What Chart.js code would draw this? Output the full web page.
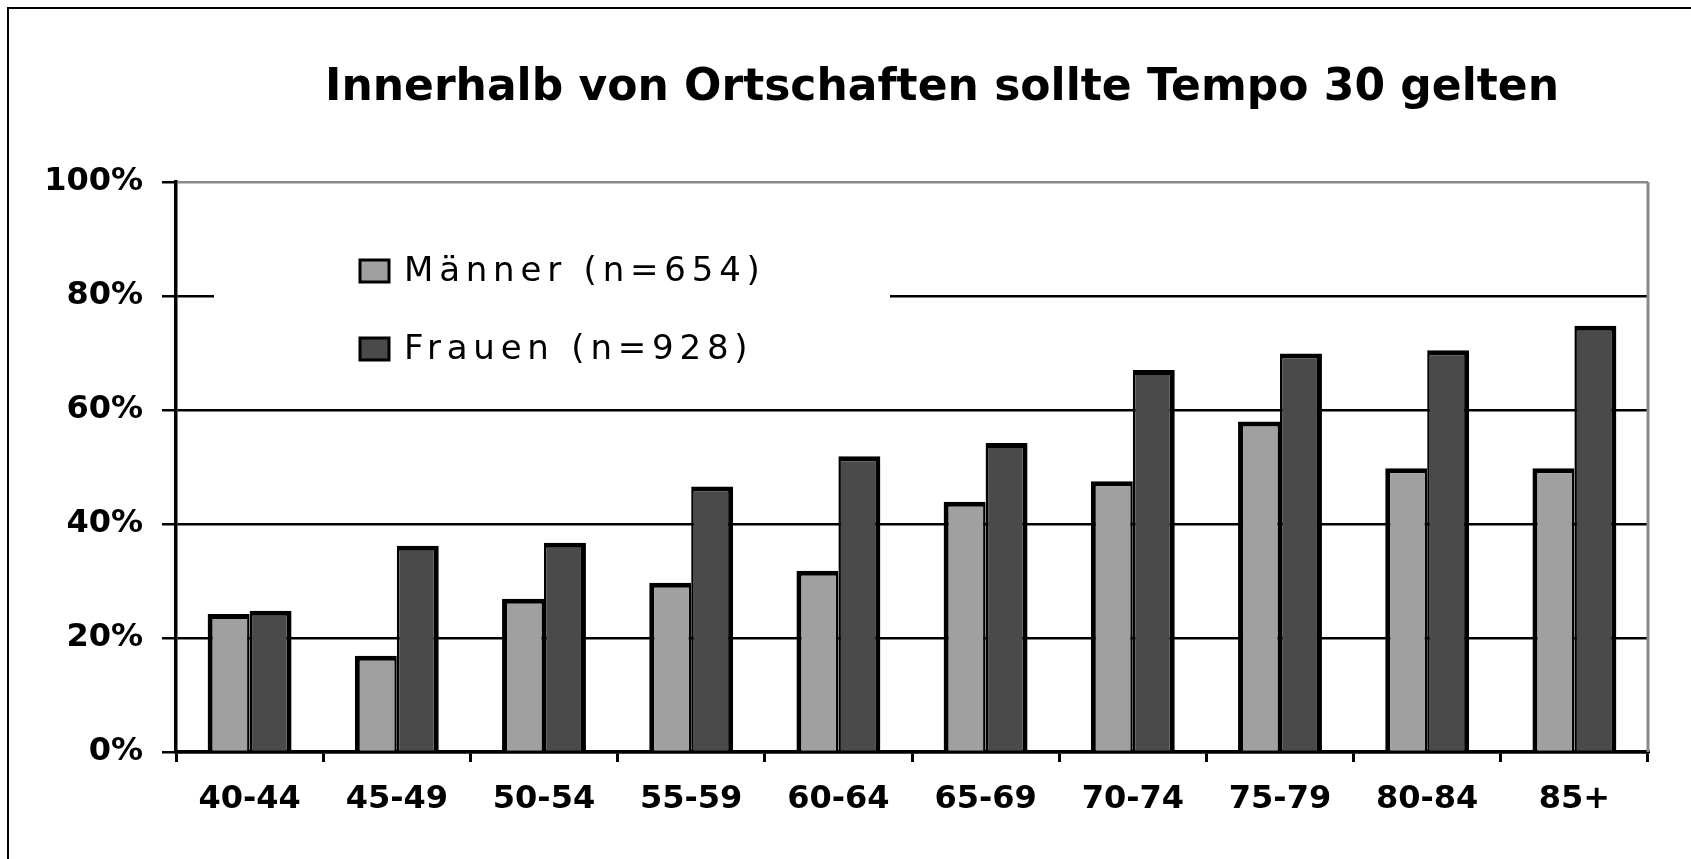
<!DOCTYPE html>
<html>
<head>
<meta charset="utf-8">
<script src="https://cdn.jsdelivr.net/npm/chart.js@4.4.1/dist/chart.umd.min.js"></script>
<style>
  body { margin: 0; background: #fff; }
</style>
</head>
<body>
<canvas id="myChart" width="1691" height="859"></canvas>
<script>
var titleText = 'Innerhalb von Ortschaften sollte Tempo 30 gelten';
var ageGroups = ['40-44', '45-49', '50-54', '55-59', '60-64', '65-69', '70-74', '75-79', '80-84', '85+'];
var maenner = [24.2, 16.9, 26.9, 29.7, 31.8, 43.9, 47.5, 58.0, 49.8, 49.8];
var frauen = [24.8, 36.2, 36.7, 46.6, 51.9, 54.2, 67.0, 69.9, 70.5, 74.8];
var seriesNames = ['Männer (n=654)', 'Frauen (n=928)'];
var yTickValues = [0, 20, 40, 60, 80, 100];

var fontFamily = '"DejaVu Sans", sans-serif';

// legend box inside the plot, covers the 80% line
var legendPlugin = {
    id: 'boxLegend',
    beforeDatasetsDraw: function(chart) {
        var ctx = chart.ctx;
        ctx.save();
        ctx.fillStyle = '#fff';
        ctx.fillRect(214, 222, 676, 150);
        ctx.font = '34px ' + fontFamily;
        ctx.letterSpacing = '5.8px';
        ctx.textBaseline = 'middle';
        var rows = [271, 349];
        chart.data.datasets.forEach(function(ds, i) {
            var y = rows[i];
            ctx.fillStyle = ds.backgroundColor;
            ctx.fillRect(360, y - 11, 29, 22);
            ctx.lineWidth = 3;
            ctx.strokeStyle = '#000';
            ctx.strokeRect(360, y - 11, 29, 22);
            ctx.fillStyle = '#000';
            ctx.fillText(ds.label, 404, y + 1);
        });
        ctx.restore();
    }
};

var framePlugin = {
    id: 'frame',
    afterDraw: function(chart) {
        var ctx = chart.ctx, a = chart.chartArea;
        ctx.save();
        // gray right edge of plot
        ctx.strokeStyle = '#8a8a8a';
        ctx.lineWidth = 3;
        ctx.beginPath();
        ctx.moveTo(a.right, a.top);
        ctx.lineTo(a.right, a.bottom);
        ctx.stroke();
        // outer frame, left and top only
        ctx.strokeStyle = '#000';
        ctx.lineWidth = 2;
        ctx.beginPath();
        ctx.moveTo(8, chart.height);
        ctx.lineTo(8, 8);
        ctx.lineTo(chart.width, 8);
        ctx.stroke();
        // title
        ctx.font = 'bold 44px ' + fontFamily;
        ctx.textAlign = 'center';
        ctx.textBaseline = 'middle';
        ctx.fillStyle = '#000';
        ctx.fillText(titleText, 942, 89);
        ctx.restore();
    }
};

var canvas = document.getElementById('myChart');
new Chart(canvas, {
    type: 'bar',
    data: {
        labels: ageGroups,
        datasets: [{
            label: seriesNames[0],
            data: maenner,
            backgroundColor: '#a0a0a0',
            borderColor: '#000',
            borderWidth: { left: 5, right: 2.5, top: 5, bottom: 0 },
            borderSkipped: 'start'
        }, {
            label: seriesNames[1],
            data: frauen,
            backgroundColor: '#4a4a4a',
            borderColor: '#000',
            borderWidth: { left: 2.5, right: 5, top: 5, bottom: 0 },
            borderSkipped: 'start'
        }]
    },
    options: {
        responsive: false,
        animation: false,
        layout: {
            padding: { left: 0, right: 43, top: 182, bottom: 0 }
        },
        plugins: {
            legend: { display: false },
            title: { display: false },
            tooltip: { enabled: false }
        },
        datasets: {
            bar: {
                categoryPercentage: 0.57,
                barPercentage: 1.0
            }
        },
        scales: {
            x: {
                grid: {
                    display: true,
                    offset: true,
                    drawOnChartArea: false,
                    drawTicks: true,
                    tickLength: 10,
                    color: '#000',
                    lineWidth: 3
                },
                border: { color: '#000', width: 3.5 },
                ticks: {
                    color: '#000',
                    padding: 18,
                    maxRotation: 0,
                    autoSkip: false,
                    font: { family: fontFamily, size: 32, weight: 'bold' }
                },
                afterFit: function(scale) { scale.height = 107; }
            },
            y: {
                min: 0,
                max: 100,
                afterBuildTicks: function(scale) {
                    scale.ticks = yTickValues.map(function(v) { return { value: v }; });
                },
                grid: {
                    color: function(c) { return c.tick && c.tick.value === 100 ? '#8a8a8a' : '#000'; },
                    tickColor: '#000',
                    lineWidth: 2.5,
                    tickLength: 14
                },
                border: { color: '#000', width: 3.5 },
                ticks: {
                    color: '#000',
                    padding: 19,
                    callback: function(v) { return v + '%'; },
                    font: { family: fontFamily, size: 32, weight: 'bold' }
                },
                afterFit: function(scale) { scale.width = 176; }
            }
        }
    },
    plugins: [legendPlugin, framePlugin]
});
</script>
</body>
</html>
